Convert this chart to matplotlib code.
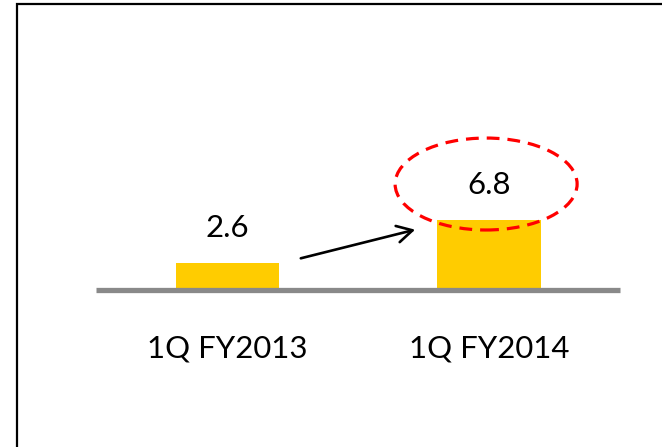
import matplotlib
matplotlib.use("Agg")
import matplotlib.pyplot as plt
from matplotlib.patches import Ellipse, Rectangle, FancyArrowPatch

categories = ["1Q FY2013", "1Q FY2014"]
values = [2.6, 6.8]

W, H, DPI = 662, 447, 100
fig = plt.figure(figsize=(W / DPI, H / DPI), dpi=DPI, facecolor="white")
ax = fig.add_axes([0, 0, 1, 1])
ax.set_xlim(-0.870, 1.6616)
ax.set_ylim(-15.37, 28.28)
ax.axis("off")

x = list(range(len(categories)))
ax.bar(x, values, width=0.394, color="#FFCC00", zorder=2)
ax.plot([-0.503, 1.501], [0, 0], color="#898989", lw=3.8, solid_capstyle="butt", zorder=3)

font = "Lato"
for xi, v in zip(x, values):
    ax.text(xi, v + 3.4, f"{v:.1f}", ha="center", va="center",
            fontsize=22.4, family=font, color="black", zorder=4)
for xi, c in zip(x, categories):
    ax.text(xi, -5.8, c, ha="center", va="center",
            fontsize=22.4, family=font, color="black", zorder=4)

# highlight circle around the latest value
ax.add_patch(Ellipse((0.989, 10.31), 0.696, 8.98, fill=False, edgecolor="#FF0000",
                     lw=2.3, linestyle=(0, (4, 2.5)), zorder=5))

# growth arrow
ax.add_patch(FancyArrowPatch((0.27, 2.99), (0.728, 5.92), arrowstyle="->,head_length=11,head_width=6",
                             color="black", lw=1.9, mutation_scale=1, zorder=5))

# outer frame
fig.patches.append(Rectangle((17 / W, -0.1), 2.0, 1 - 4 / H + 0.1, transform=fig.transFigure,
                             fill=False, edgecolor="black", lw=1.6, zorder=10))

fig.savefig("out.png", dpi=DPI, facecolor="white")
